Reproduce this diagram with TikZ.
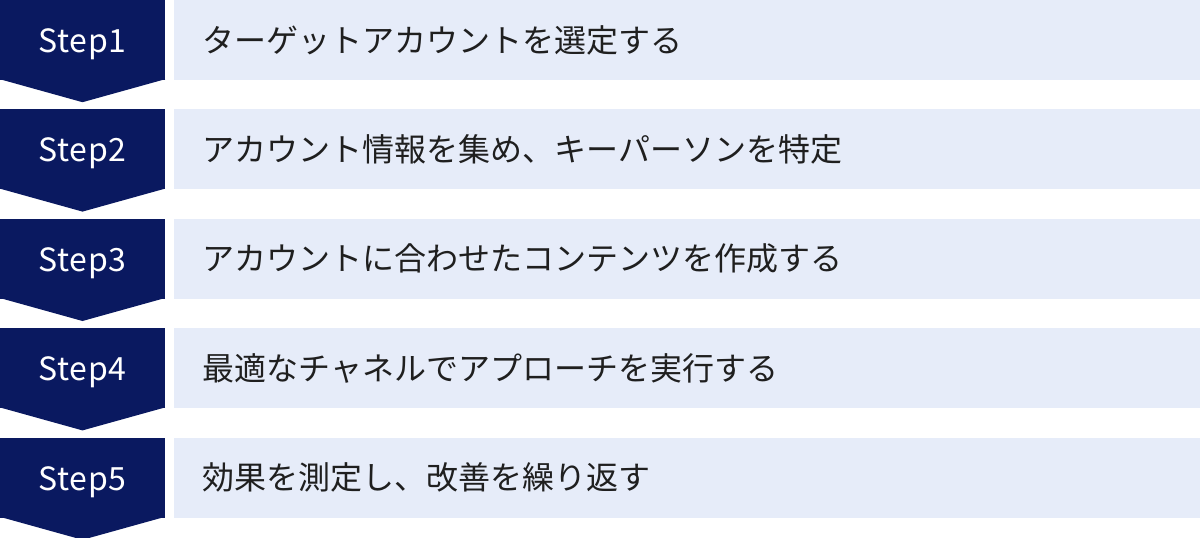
\documentclass[tikz,border=0pt]{standalone}
\usepackage{fontspec}
\setmainfont{Noto Sans CJK JP}
\newfontfamily\stepfont{Noto Sans CJK JP}[LetterSpace=2.5]
\usepackage{tikz}
\usetikzlibrary{positioning}
\definecolor{stepblue}{HTML}{0A1960}
\definecolor{rowblue}{HTML}{E6ECF9}
\tikzstyle{stepbox} = [fill=stepblue, text=white, rectangle, inner sep=0pt,
    minimum height=80pt, minimum width=165pt, text height=25pt, text depth=0pt,
    font=\stepfont\fontsize{32}{36}\selectfont]
\tikzstyle{rowbox} = [fill=rowblue, text=black!88, rectangle, inner xsep=28pt,
    inner ysep=0pt, minimum height=80pt, text width=970pt, align=left,
    text height=24pt, text depth=0pt, font=\fontsize{32}{36}\selectfont]
\newcommand{\steptip}[1]{\fill [stepblue] ([yshift=1pt]#1.south west)
    -- ([yshift=1pt]#1.south east) -- ([yshift=-22pt]#1.south) -- cycle;}

\begin{document}
\begin{tikzpicture}[node distance=29pt]
    \useasboundingbox (0,0) rectangle (1200pt,-538pt);
    \node [stepbox] (s1) at (82.5pt,-40pt) {Step1};
    \node [stepbox, below=of s1] (s2) {Step2};
    \node [stepbox, below=of s2] (s3) {Step3};
    \node [stepbox, below=of s3] (s4) {Step4};
    \node [stepbox, below=of s4] (s5) {Step5};
    \steptip{s1} \steptip{s2} \steptip{s3} \steptip{s4} \steptip{s5}
    % row texts
    \node [rowbox, right=9pt of s1] (r1) {ターゲットアカウントを選定する};
    \node [rowbox, right=9pt of s2] (r2) {アカウント情報を集め、キーパーソンを特定};
    \node [rowbox, right=9pt of s3] (r3) {アカウントに合わせたコンテンツを作成する};
    \node [rowbox, right=9pt of s4] (r4) {最適なチャネルでアプローチを実行する};
    \node [rowbox, right=9pt of s5] (r5) {効果を測定し、改善を繰り返す};
\end{tikzpicture}
\end{document}
